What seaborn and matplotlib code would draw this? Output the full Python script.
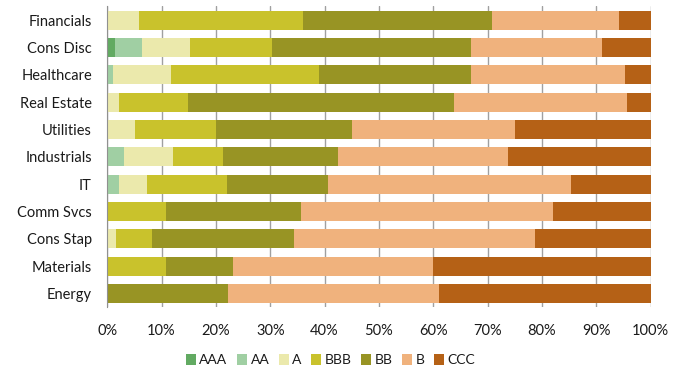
import numpy as np
import pandas as pd
import matplotlib
matplotlib.use("Agg")
import matplotlib.pyplot as plt
import seaborn as sns

# sectors, top to bottom
sectors = ["Financials", "Cons Disc", "Healthcare", "Real Estate", "Utilities",
           "Industrials", "IT", "Comm Svcs", "Cons Stap", "Materials", "Energy"]
ratings = ["AAA", "AA", "A", "BBB", "BB", "B", "CCC"]

# share of each rating per sector (%)
aaa = [0.0, 1.4, 0.0, 0.0, 0.0, 0.0, 0.0, 0.0, 0.0, 0.0, 0.0]
aa = [0.0, 5.0, 1.1, 0.0, 0.0, 3.1, 2.1, 0.0, 0.0, 0.0, 0.0]
a = [5.9, 8.9, 10.7, 2.1, 5.1, 9.0, 5.3, 0.0, 1.7, 0.0, 0.0]
bbb = [30.1, 15.1, 27.1, 12.8, 14.9, 9.2, 14.6, 10.8, 6.6, 10.8, 0.0]
bb = [34.8, 36.6, 28.1, 48.9, 25.0, 21.1, 18.6, 24.9, 26.1, 12.3, 22.2]
b = [23.3, 24.1, 28.2, 31.9, 30.0, 31.3, 44.8, 46.4, 44.3, 36.9, 38.9]
ccc = [5.9, 8.9, 4.8, 4.3, 25.0, 26.3, 14.6, 17.9, 21.3, 40.0, 38.9]

colors = ["#62AA62", "#A0CFA3", "#EBE9AC", "#C9C22C", "#989424", "#F0B27D", "#B56116"]

df = pd.DataFrame({"sector": sectors, "AAA": aaa, "AA": aa, "A": a, "BBB": bbb,
                   "BB": bb, "B": b, "CCC": ccc})
cum = df[ratings].cumsum(axis=1)

sns.set_style("white")
plt.rcParams["font.family"] = ["Lato", "DejaVu Sans"]

fig = plt.figure(figsize=(6.96, 3.82), dpi=100)
ax = fig.add_axes([0.154, 0.196, 0.781, 0.787])

# stacked bars: draw cumulative totals from the last rating back to the first
for r, c in reversed(list(zip(ratings, colors))):
    sns.barplot(x=cum[r], y=df["sector"], color=c, width=0.7, linewidth=0,
                saturation=1, orient="h", ax=ax, label=r)

ax.set_xlim(0, 100)
ax.set_xticks(np.arange(0, 101, 10))
ax.set_xticklabels([f"{v}%" for v in range(0, 101, 10)])
ax.set_xlabel("")
ax.set_ylabel("")
ax.grid(axis="x", color="#A0A0A0", linewidth=1)
ax.set_axisbelow(True)
for s in ["top", "right", "bottom"]:
    ax.spines[s].set_visible(False)
ax.spines["left"].set_color("#909090")
ax.tick_params(axis="x", length=5, color="#A0A0A0", labelsize=10.5, pad=7, labelcolor="#1a1a1a")
ax.tick_params(axis="y", length=0, labelsize=10.5, pad=11, labelcolor="#1a1a1a")

handles, labels = ax.get_legend_handles_labels()
order = [labels.index(r) for r in ratings]
fig.legend([handles[i] for i in order], ratings, loc="center", bbox_to_anchor=(0.475, 0.058),
           ncol=7, frameon=False, fontsize=10, handlelength=0.7, handleheight=0.9,
           handletextpad=0.25, columnspacing=0.7, labelcolor="#1a1a1a")
if ax.get_legend() is not None:
    ax.get_legend().remove()

fig.savefig("out.png", dpi=100)
